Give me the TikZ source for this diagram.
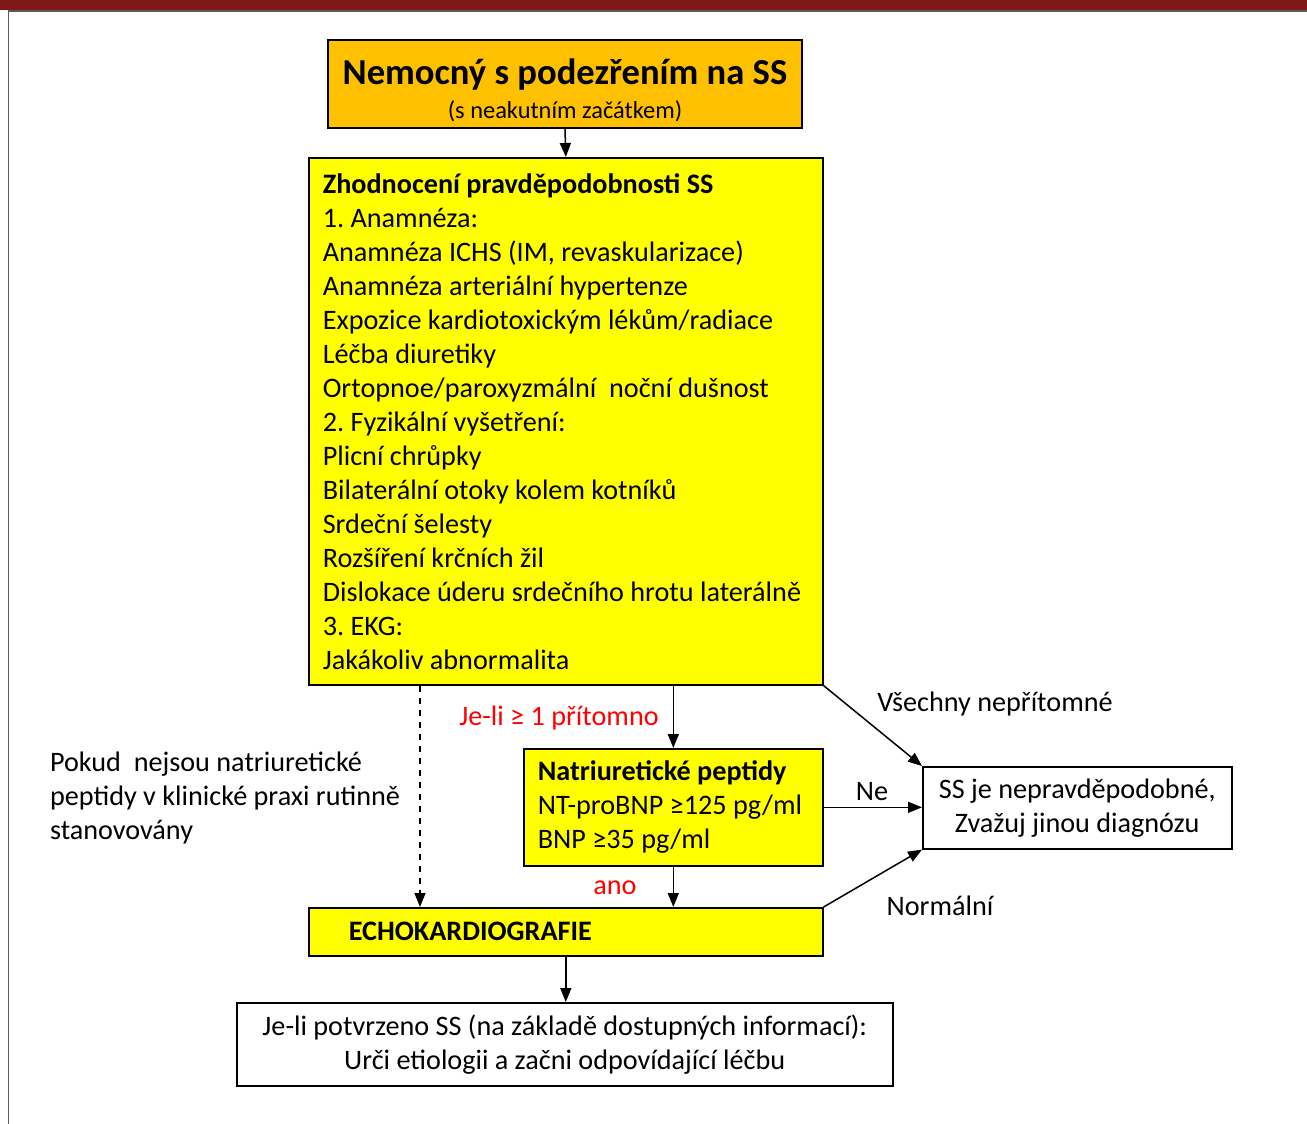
\documentclass[tikz,border=0pt]{standalone}
\usepackage{fontspec}
\setmainfont{Carlito}
\usetikzlibrary{arrows.meta,positioning,calc}
\frenchspacing

\definecolor{banner}{RGB}{127,25,25}
\definecolor{boxorange}{RGB}{255,192,0}
\definecolor{boxyellow}{RGB}{255,255,0}
\definecolor{framegray}{RGB}{90,90,90}

\begin{document}
\begin{tikzpicture}[
    x=0.5pt, y=-0.5pt,
    every node/.style={font=\fontsize{14.1}{17}\selectfont},
    startbox/.style={rectangle, draw, line width=0.8pt, fill=boxorange, minimum width=237pt, minimum height=44pt, align=center, inner sep=0pt},
    yellowbox/.style={rectangle, draw, line width=0.8pt, fill=boxyellow, anchor=north west, align=flush left, inner xsep=7pt},
    whitebox/.style={rectangle, draw, line width=0.8pt, fill=white, anchor=north west, align=center, inner sep=0pt},
    arrow/.style={-{Triangle[length=7pt, width=5.5pt]}, line width=0.75pt},
    dasharrow/.style={arrow, dashed},
    redlabel/.style={text=red}
]
\useasboundingbox (0,0) rectangle (1307,1124);

% Banner and frame
\fill[banner] (0,0) rectangle (1307,10);
\draw[framegray, line width=0.8pt] (8.5,1124) -- (8.5,11) -- (1307,11);

% Boxes
\node[startbox] (start) at (565,84) {\rule{0pt}{19pt}{\fontsize{18.3}{21}\selectfont\bfseries Nemocný s podezřením na SS}\\[0pt] {\fontsize{12.2}{15.5}\selectfont (s neakutním začátkem)}};
\node[yellowbox, minimum width=257pt, minimum height=263.5pt, text width=243pt] (assess) at (308,157) {\textbf{Zhodnocení pravděpodobnosti SS}\\
1. Anamnéza:\\
Anamnéza ICHS (IM, revaskularizace)\\
Anamnéza arteriální hypertenze\\
Expozice kardiotoxickým lékům/radiace\\
Léčba diuretiky\\
Ortopnoe/paroxyzmální\ \ noční dušnost\\
2. Fyzikální vyšetření:\\
Plicní chrůpky\\
Bilaterální otoky kolem kotníků\\
Srdeční šelesty\\
Rozšíření krčních žil\\
Dislokace úderu srdečního hrotu laterálně\\
3. EKG:\\
Jakákoliv abnormalita};
\node[yellowbox, minimum width=149.5pt, minimum height=58.5pt, text width=135.5pt] (peptides) at (523,748) {\textbf{Natriuretické peptidy}\\
NT-proBNP ≥125 pg/ml\\
BNP ≥35 pg/ml};
\node[whitebox, minimum width=154.5pt, minimum height=41pt] (unlikely) at (922,766) {SS je nepravděpodobné,\\ Zvažuj jinou diagnózu};
\node[yellowbox, minimum width=257pt, minimum height=24pt, inner xsep=20pt, text width=217pt] (echo) at (308,907) {\textbf{ECHOKARDIOGRAFIE}};
\node[whitebox, minimum width=328pt, minimum height=41.5pt] (confirmed) at (236,1002) {Je-li potvrzeno SS (na základě dostupných informací):\\ Urči etiologii a začni odpovídající léčbu};

% Side note
\node[anchor=west, align=left] (note) at (43,798) {Pokud\ \ nejsou natriuretické\\ peptidy v klinické praxi rutinně\\ stanovovány};

% Connectors
\draw[arrow] (start.south) -- (assess.north);
\draw[arrow] (assess.south -| peptides.north) -- (peptides.north);
\draw[dasharrow] ([xshift=56pt]assess.south west) -- ([xshift=56pt]echo.north west);
\draw[arrow] (assess.south east) -- (unlikely.north west);
\draw[arrow] (peptides.east) -- (peptides.east -| unlikely.west);
\draw[arrow] (peptides.south) -- (peptides.south |- echo.north);
\draw[arrow] (echo.north east) -- (unlikely.south west);
\draw[arrow] (echo.south) -- (echo.south |- confirmed.north);

% Labels
\node[redlabel] (present) at (559,718) {Je-li ≥ 1 přítomno};
\node[redlabel] (yes) at (615,888) {ano};
\node (no) at (872,792) {Ne};
\node (absent) at (995,704) {Všechny nepřítomné};
\node (normal) at (940,906) {Normální};

\end{tikzpicture}
\end{document}
